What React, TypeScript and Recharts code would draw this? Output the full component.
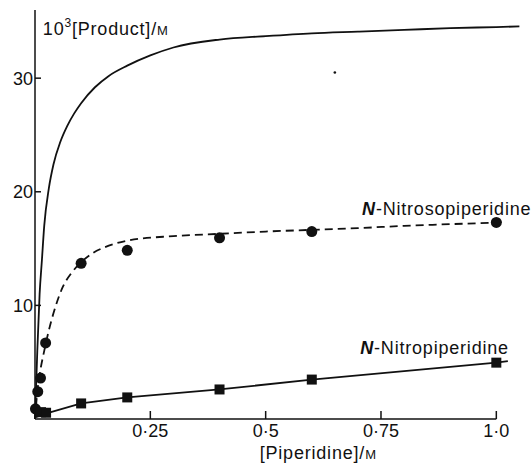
import React from "react";
import {
  ComposedChart,
  Line,
  Scatter,
  XAxis,
  YAxis,
  ReferenceLine,
  ReferenceDot,
} from "recharts";

// total product (smooth curve, no markers)
const productX = [0, 0.005, 0.01, 0.015, 0.02, 0.03, 0.04, 0.055, 0.07, 0.085, 0.1, 0.13, 0.16, 0.2, 0.25, 0.3, 0.4, 0.5, 0.6, 0.7, 0.8, 0.9, 1.0, 1.05];
const productY = [0, 6, 11, 14, 17, 20.3, 22.4, 24.4, 25.8, 26.9, 27.8, 29.2, 30.2, 31.1, 32, 32.7, 33.4, 33.7, 33.95, 34.1, 34.25, 34.4, 34.5, 34.55];

// N-nitrosopiperidine: fitted dashed curve + measured points
const nitrosoCurveX = [0, 0.005, 0.01, 0.02, 0.03, 0.04, 0.06, 0.08, 0.1, 0.125, 0.15, 0.2, 0.3, 0.4, 0.5, 0.6, 0.7, 0.8, 0.9, 1.0, 1.02];
const nitrosoCurveY = [0, 2.4, 3.9, 6.0, 7.8, 9.3, 11.6, 12.9, 13.8, 14.6, 15.1, 15.7, 16.1, 16.3, 16.5, 16.65, 16.8, 17.0, 17.15, 17.3, 17.35];
const nitrosoX = [0.001, 0.006, 0.012, 0.023, 0.1, 0.2, 0.4, 0.6, 1.0];
const nitrosoY = [0.9, 2.4, 3.6, 6.7, 13.7, 14.85, 15.95, 16.5, 17.3];

// N-nitropiperidine: straight segments + measured points
const nitroLineX = [0, 0.025, 0.1, 0.2, 0.4, 0.6, 1.0, 1.025];
const nitroLineY = [0.15, 0.5, 1.37, 1.9, 2.6, 3.47, 4.96, 5.1];
const nitroX = [0.013, 0.024, 0.1, 0.2, 0.4, 0.6, 1.0];
const nitroY = [0.6, 0.55, 1.37, 1.9, 2.6, 3.47, 4.96];

const xTicks = [0.25, 0.5, 0.75, 1.0];
const xTickLabels = ["0·25", "0·5", "0·75", "1·0"];
const yTicks = [10, 20, 30];

const zip = (xs: number[], ys: number[]) => xs.map((x, i) => ({ x, y: ys[i] }));

const productData = zip(productX, productY);
const nitrosoCurve = zip(nitrosoCurveX, nitrosoCurveY);
const nitrosoPts = zip(nitrosoX, nitrosoY);
const nitroLine = zip(nitroLineX, nitroLineY);
const nitroPts = zip(nitroX, nitroY);

const FONT = "'Liberation Sans', Arial, sans-serif";
const INK = "#111";

const XTick = (props: any) => {
  const { x, y, payload } = props;
  const i = xTicks.indexOf(payload.value);
  return (
    <g>
      <line x1={x} y1={y} x2={x} y2={y - 8} stroke={INK} strokeWidth={1.5} />
      <text x={x} y={y + 18} textAnchor="middle" fontFamily={FONT} fontSize={18} fill={INK}>
        {xTickLabels[i]}
      </text>
    </g>
  );
};

const YTick = (props: any) => {
  const { x, y, payload } = props;
  return (
    <g>
      <line x1={x} y1={y} x2={x + 6} y2={y} stroke={INK} strokeWidth={1.5} />
      <text x={x - 2} y={y} dy="0.36em" textAnchor="end" fontFamily={FONT} fontSize={18} fill={INK}>
        {payload.value}
      </text>
    </g>
  );
};

const Dot = (p: any) => <circle cx={p.cx} cy={p.cy} r={5.5} fill={INK} />;
const Square = (p: any) => <rect x={p.cx - 5} y={p.cy - 5} width={10} height={10} fill={INK} />;

// text anchored at a data point (ReferenceDot with r=0)
const Note = (props: any) => {
  const { viewBox, kind, anchor } = props;
  const x = viewBox.x;
  const y = viewBox.y;
  const common = { fontFamily: FONT, fontSize: 18, fill: INK, letterSpacing: 0.8 } as any;
  if (kind === "ytitle") {
    return (
      <text x={x} y={y} {...common}>
        10<tspan fontSize={12} dy={-8}>3</tspan>
        <tspan dy={8}>[Product]/</tspan>
        <tspan fontSize={13}>M</tspan>
      </text>
    );
  }
  if (kind === "xtitle") {
    return (
      <text x={x} y={y} textAnchor={anchor || "middle"} {...common}>
        [Piperidine]/<tspan fontSize={13}>M</tspan>
      </text>
    );
  }
  return (
    <text x={x} y={y} {...common}>
      <tspan fontStyle="italic" fontWeight="bold">N</tspan>-{kind}
    </text>
  );
};

export default function App() {
  return (
    <div style={{ position: "absolute", left: 0, top: 0, background: "#fff" }}>
      <ComposedChart
        width={532}
        height={465}
        margin={{ top: 10, right: 8, bottom: 0, left: 0 }}
      >
        <XAxis
          type="number"
          dataKey="x"
          domain={[0, 1.06]}
          ticks={xTicks}
          axisLine={false}
          tickLine={false}
          tickSize={0}
          tickMargin={0}
          tick={<XTick />}
          height={46}
          allowDuplicatedCategory={false}
        />
        <YAxis
          type="number"
          dataKey="y"
          domain={[0, 36]}
          ticks={yTicks}
          width={35}
          axisLine={{ stroke: INK, strokeWidth: 1.5 }}
          tickLine={false}
          tickSize={0}
          tickMargin={0}
          tick={<YTick />}
        />
        <ReferenceLine
          segment={[{ x: 0, y: 0 }, { x: 1.0, y: 0 }]}
          stroke={INK}
          strokeWidth={1.5}
          ifOverflow="visible"
        />
        <Line
          data={productData}
          dataKey="y"
          type="monotone"
          stroke={INK}
          strokeWidth={1.8}
          dot={false}
          activeDot={false}
          isAnimationActive={false}
        />
        <Line
          data={nitrosoCurve}
          dataKey="y"
          type="monotone"
          stroke={INK}
          strokeWidth={1.8}
          strokeDasharray="8 5"
          dot={false}
          activeDot={false}
          isAnimationActive={false}
        />
        <Line
          data={nitroLine}
          dataKey="y"
          type="linear"
          stroke={INK}
          strokeWidth={1.8}
          dot={false}
          activeDot={false}
          isAnimationActive={false}
        />
        <Scatter data={nitrosoPts} dataKey="y" shape={<Dot />} isAnimationActive={false} />
        <Scatter data={nitroPts} dataKey="y" shape={<Square />} isAnimationActive={false} />
        <ReferenceDot x={0.65} y={30.5} r={1.3} fill={INK} stroke="none" />
        <ReferenceDot x={0.017} y={33.8} r={0} stroke="none" ifOverflow="visible" label={<Note kind="ytitle" />} />
        <ReferenceDot x={0.614} y={-3.5} r={0} stroke="none" ifOverflow="visible" label={<Note kind="xtitle" />} />
        <ReferenceDot x={0.709} y={18.0} r={0} stroke="none" ifOverflow="visible" label={<Note kind="Nitrosopiperidine" />} />
        <ReferenceDot x={0.705} y={5.7} r={0} stroke="none" ifOverflow="visible" label={<Note kind="Nitropiperidine" />} />
      </ComposedChart>
    </div>
  );
}
